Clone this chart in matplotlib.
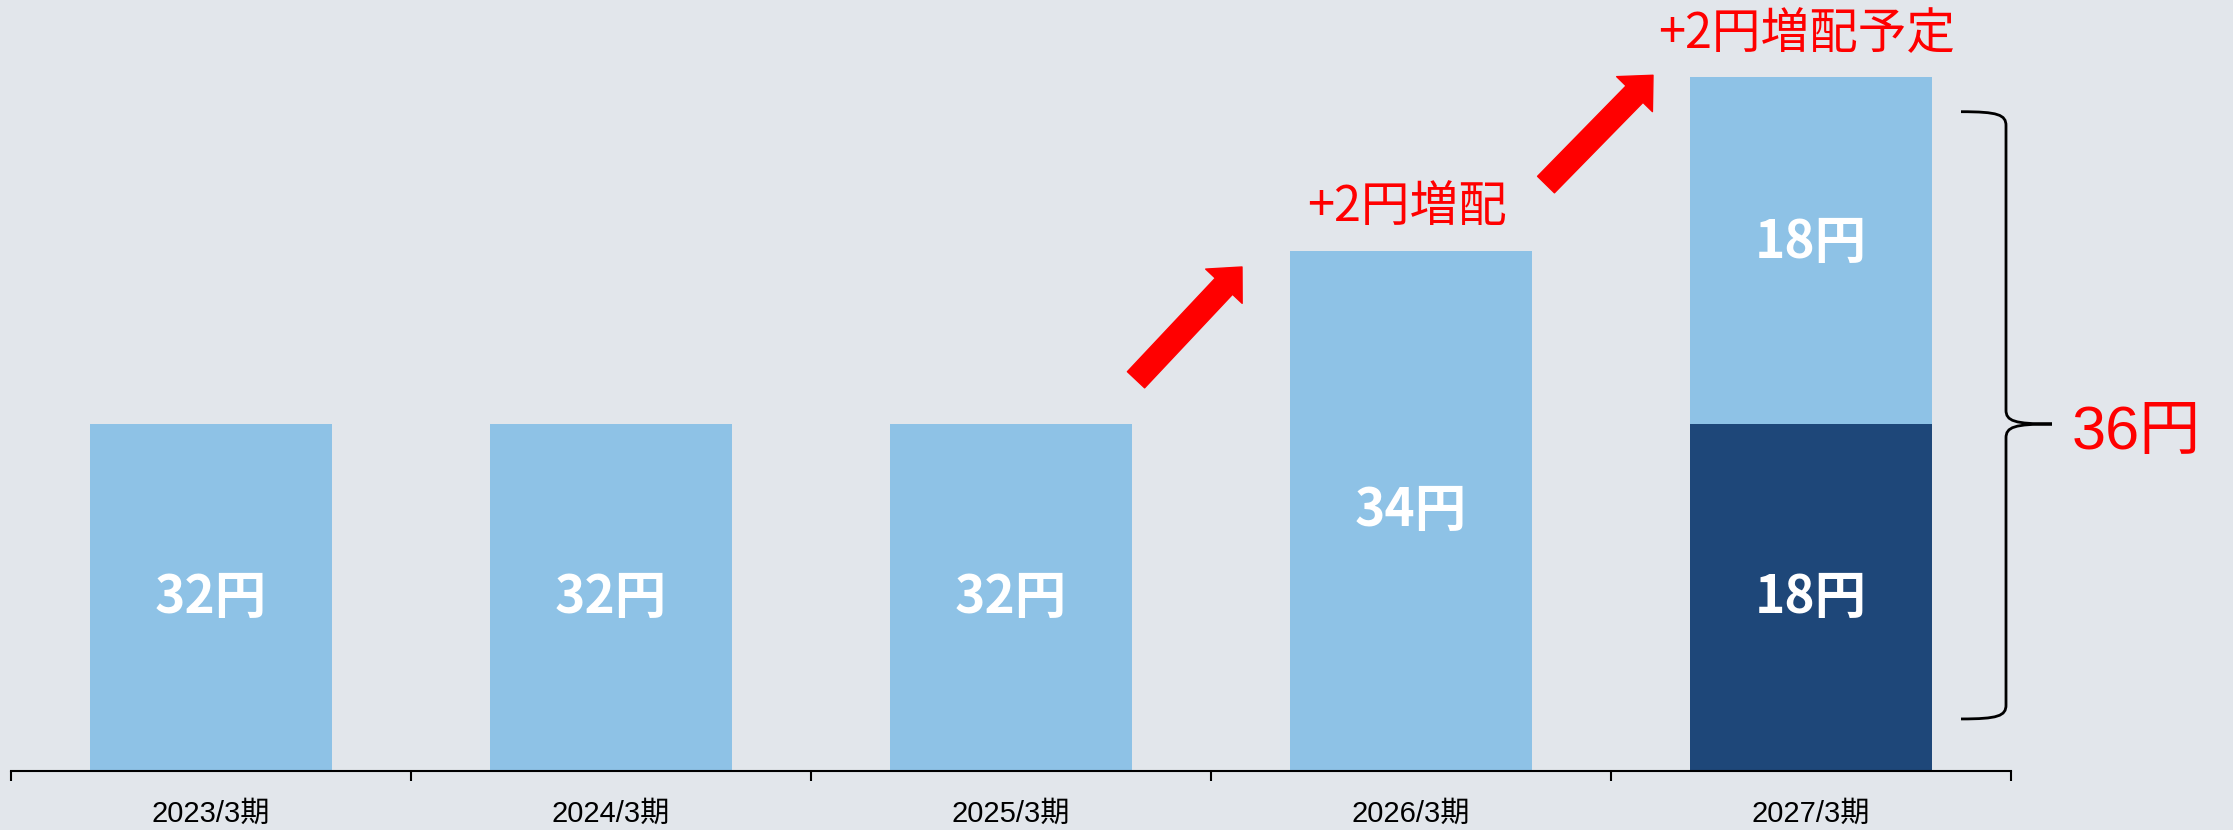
import matplotlib
matplotlib.use('Agg')
import numpy as np
import matplotlib.pyplot as plt
from matplotlib import font_manager
from matplotlib.path import Path
from matplotlib.patches import PathPatch, FancyArrowPatch, ArrowStyle

# data
periods = ['2023/3期', '2024/3期', '2025/3期', '2026/3期', '2027/3期']
dividends = [32, 32, 32, 34, 36]
split_2027 = [18, 18]          # lower / upper part of 2027/3
increase_labels = ['+2円増配', '+2円増配予定']
total_label = '36円'

BG = '#E2E6EB'
LIGHT = '#8EC2E6'
DARK = '#1E4779'
RED = '#FF0000'

names = {f.name for f in font_manager.fontManager.ttflist}
narrow = 'Liberation Sans Narrow' if 'Liberation Sans Narrow' in names else 'Liberation Sans'
CJK = 'Noto Sans CJK JP'

base = 28      # y axis starts here, not at zero
px_x = 1 / 400.0   # data units per pixel
px_y = 1 / 86.75

fig = plt.figure(figsize=(22.33, 8.3), dpi=100, facecolor=BG)
ax = fig.add_axes([11 / 2233, 59 / 830, 2000 / 2233, 771 / 830])
ax.set_facecolor(BG)
ax.set_xlim(-0.5, 4.5)
ax.set_ylim(base, base + 771 * px_y)

x = np.arange(len(periods))
w = 0.607

for i, v in enumerate(dividends[:-1]):
    ax.bar(x[i], v - base, bottom=base, width=w, color=LIGHT, zorder=2)
    ax.text(x[i], (base + v) / 2, f'{v}円', ha='center', va='center',
            color='white', fontsize=37, fontweight='bold', family=CJK)

# 2027: stacked, split scaled inside the visible bar
total = dividends[-1]
mid = base + (total - base) * split_2027[0] / sum(split_2027)
ax.bar(x[-1], mid - base, bottom=base, width=w, color=DARK, zorder=2)
ax.bar(x[-1], total - mid, bottom=mid, width=w, color=LIGHT, zorder=2)
ax.text(x[-1], (base + mid) / 2, f'{split_2027[0]}円', ha='center', va='center',
        color='white', fontsize=37, fontweight='bold', family=CJK)
ax.text(x[-1], (mid + total) / 2 + 8 * px_y, f'{split_2027[1]}円', ha='center', va='center',
        color='white', fontsize=37, fontweight='bold', family=CJK)

# increase labels above bars
for i, lab in zip([3, 4], increase_labels):
    ax.annotate(lab, (x[i] - 0.01, dividends[i]), xytext=(0, 31), textcoords='offset points',
                ha='center', va='center', color=RED, fontsize=35, family=CJK,
                annotation_clip=False)

# red arrows
arrows = [((2.3125, 32.51), (2.5775, 33.81)), ((3.3375, 34.76), (3.605, 36.02))]
for a, b in arrows:
    st = ArrowStyle('Simple', head_length=19, head_width=36, tail_width=17)
    ax.add_patch(FancyArrowPatch(a, b, arrowstyle=st, mutation_scale=1, color=RED,
                                 shrinkA=0, shrinkB=0, clip_on=False, zorder=3))

# brace next to the 2027 bar
x0 = 4.4875
ytop = total - 0.4
ybot = base + 0.6
ym = mid
verts = [
    (x0 - 45 * px_x, ytop),
    (x0 - 8 * px_x, ytop), (x0, ytop - 3 * px_y), (x0, ytop - 14 * px_y),
    (x0, ym + 14 * px_y),
    (x0, ym + 3 * px_y), (x0 + 8 * px_x, ym), (x0 + 46 * px_x, ym),
    (x0 + 8 * px_x, ym), (x0, ym - 3 * px_y), (x0, ym - 14 * px_y),
    (x0, ybot + 14 * px_y),
    (x0, ybot + 3 * px_y), (x0 - 8 * px_x, ybot), (x0 - 45 * px_x, ybot),
]
codes = [Path.MOVETO, Path.CURVE4, Path.CURVE4, Path.CURVE4, Path.LINETO,
         Path.CURVE4, Path.CURVE4, Path.CURVE4, Path.CURVE4, Path.CURVE4, Path.CURVE4,
         Path.LINETO, Path.CURVE4, Path.CURVE4, Path.CURVE4]
ax.add_patch(PathPatch(Path(verts, codes), fill=False, lw=2, edgecolor='black',
                       clip_on=False, zorder=3))
ax.text(4.6525, ym - 9 * px_y, total_label, ha='left', va='center', color=RED, fontsize=44,
        family=['Liberation Sans', CJK], clip_on=False)

# axes styling
for s in ['top', 'right', 'left']:
    ax.spines[s].set_visible(False)
ax.spines['bottom'].set_linewidth(1.5)
ax.set_yticks([])
ax.set_xticks(x)
ax.set_xticklabels(periods, family=[narrow, CJK], fontsize=21)
ax.tick_params(axis='x', which='major', length=0, pad=21)
ax.set_xticks(np.arange(-0.5, 5, 1), minor=True)
ax.tick_params(axis='x', which='minor', length=7, width=1.5, direction='out')

fig.savefig('out.png', dpi=100, facecolor=BG)
